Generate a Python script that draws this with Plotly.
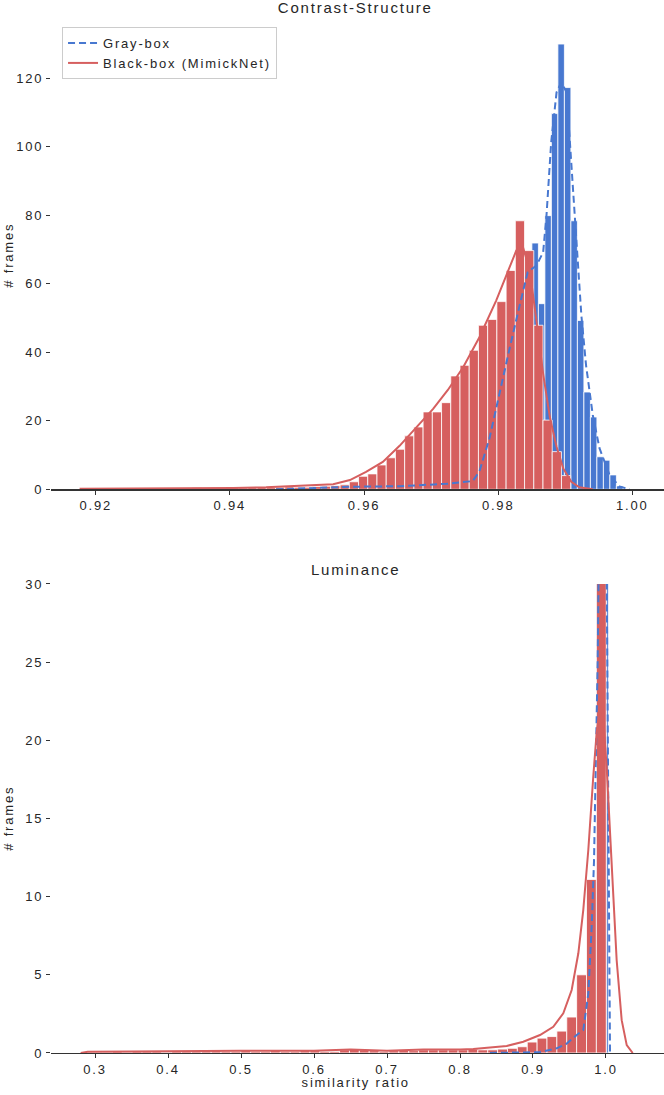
import numpy as np
import plotly.graph_objects as go

# ---------------- Datos: Contrast-Structure (panel superior) ----------------
# histograma Black-box (MimickNet): primer centro de bin, ancho de bin y conteos
cs_red_first_center = 0.91862
cs_red_bin = 0.001375
cs_red_counts = [
    0.2, 0.2, 0.1, 0.2, 0.2, 0.3, 0.2, 0.3, 0.3, 0.4,
    0.3, 0.4, 0.5, 0.4, 0.5, 0.4, 0.5, 0.4, 0.5, 0.6,
    0.5, 0.6, 0.7, 0.6, 0.6, 0.8, 0.9, 1.05, 1.3, 2.2,
    3.8, 4.5, 7.1, 9.2, 11.7, 15.6, 18.2, 22.6, 22.6, 25.3,
    33.1, 36.2, 40.6, 47.9, 49.6, 54.8, 63.9, 78.4, 69.7, 47.9,
    20.2, 11.0, 4.0,
]
# histograma Gray-box
cs_blue_first_center = 0.94772
cs_blue_bin = 0.000969
cs_blue_counts = [
    0.2, 0.3, 0.3, 0.4, 0.5, 0.5, 0.6, 0.6, 0.7, 0.7,
    0.8, 0.8, 0.8, 0.9, 0.9, 0.9, 1.0, 1.0, 1.0, 1.1,
    1.1, 1.2, 1.2, 1.3, 1.4, 1.5, 1.6, 1.8, 2.0, 2.4,
    4.0, 9.0, 16.0, 25.0, 33.0, 42.0, 50.0, 57.0, 63.0, 71.9,
    54.2, 79.9, 109.7, 130.0, 117.3, 78.4, 49.3, 28.4, 21.1, 9.5,
    8.5, 4.2, 1.0,
]
# curvas KDE
cs_blue_kde_x = [0.9469, 0.9530, 0.9583, 0.9653, 0.9673, 0.9723, 0.9762, 0.9772,
                 0.9787, 0.9802, 0.9817, 0.9832, 0.9844, 0.9857, 0.9867, 0.9872,
                 0.9879, 0.9887, 0.9894, 0.9902, 0.9909, 0.9917, 0.9924, 0.9931,
                 0.9941, 0.9951, 0.9966, 0.9981, 0.9996]
cs_blue_kde_y = [0.0, 0.4, 0.75, 0.9, 1.1, 1.6, 2.4, 5.2,
                 14.9, 28.5, 41.1, 53.7, 63.4, 65.3, 69.2, 79.9,
                 101.3, 115.9, 118.8, 115.9, 94.5, 70.2, 50.8, 36.2,
                 21.7, 12.0, 4.2, 0.8, 0.0]
cs_red_kde_x = [0.9176, 0.9250, 0.9300, 0.9355, 0.9405, 0.9454, 0.9504, 0.9554,
                0.9579, 0.9603, 0.9628, 0.9653, 0.9678, 0.9703, 0.9725, 0.9748,
                0.9772, 0.9797, 0.9812, 0.9827, 0.9837, 0.9847, 0.9857, 0.9867,
                0.9877, 0.9887, 0.9897, 0.9909, 0.9921, 0.9941]
cs_red_kde_y = [0.15, 0.2, 0.25, 0.3, 0.4, 0.58, 0.96, 1.5,
                2.7, 5.1, 8.0, 12.7, 18.1, 23.5, 29.0, 35.7,
                44.4, 55.1, 62.4, 69.7, 70.7, 63.9, 49.3, 33.8,
                21.1, 12.4, 6.1, 2.2, 0.6, 0.0]

# ---------------- Datos: Luminance (panel inferior) ----------------
lum_red_first_center = 0.29004
lum_red_bin = 0.01353
lum_red_counts = [
    0.05, 0.05, 0.05, 0.1, 0.05, 0.1, 0.1, 0.1, 0.05, 0.1,
    0.1, 0.1, 0.1, 0.15, 0.1, 0.1, 0.15, 0.1, 0.1, 0.15,
    0.1, 0.1, 0.15, 0.15, 0.1, 0.1, 0.2, 0.25, 0.2, 0.15,
    0.1, 0.15, 0.2, 0.15, 0.2, 0.2, 0.2, 0.2, 0.2, 0.25,
    0.2, 0.2, 0.25, 0.3, 0.4, 0.7, 0.95, 1.05, 1.4, 2.3,
    5.0, 11.1, 60.0,
]
lum_blue_first_center = 0.94975
lum_blue_bin = 0.0025
lum_blue_counts = [
    0.5, 0.6, 0.6, 0.7, 0.8, 0.9, 1.0, 1.2, 1.5, 2.0,
    3.0, 5.0, 6.0, 8.0, 10.0, 10.0, 90.0, 120.0, 140.0, 130.0,
    100.0, 60.0,
]
lum_blue_kde_x = [0.8411, 0.8800, 0.9096, 0.9325, 0.9462, 0.9599, 0.9689, 0.9758,
                  0.9804, 0.9836, 0.9863, 0.9886, 0.9900, 0.9925, 0.9955, 0.9985,
                  1.0009, 1.0023, 1.0037, 1.0055]
lum_blue_kde_y = [0.0, 0.02, 0.06, 0.3, 0.6, 1.15, 1.47, 3.8,
                  8.1, 12.3, 18.7, 25.1, 31.0, 55.0, 65.0, 50.0,
                  31.0, 23.0, 12.3, 0.0]
lum_red_kde_x = [0.2804, 0.2900, 0.3500, 0.4000, 0.4500, 0.5000, 0.5500, 0.6000,
                 0.6500, 0.7000, 0.7500, 0.7726, 0.8000, 0.8182, 0.8400, 0.8640,
                 0.8867, 0.9096, 0.9278, 0.9415, 0.9530, 0.9621, 0.9689, 0.9758,
                 0.9826, 0.9872, 0.9918, 0.9963, 1.0009, 1.0078, 1.0146, 1.0215,
                 1.0284, 1.0366]
lum_red_kde_y = [0.0, 0.08, 0.1, 0.1, 0.12, 0.15, 0.17, 0.15,
                 0.22, 0.15, 0.22, 0.2, 0.22, 0.25, 0.33, 0.45,
                 0.72, 1.15, 1.68, 2.54, 4.03, 6.38, 9.15, 13.0,
                 17.7, 20.5, 22.2, 21.5, 18.3, 12.3, 5.95, 2.1,
                 0.5, 0.0]

cs_xticks = [0.92, 0.94, 0.96, 0.98, 1.00]
cs_yticks = [0, 20, 40, 60, 80, 100, 120]
lum_xticks = [0.3, 0.4, 0.5, 0.6, 0.7, 0.8, 0.9, 1.0]
lum_yticks = [0, 5, 10, 15, 20, 25, 30]

CHART_CONFIG = {
    "colors": {
        "gray_box": "#4878d0",
        "black_box": "#d65f5f",
        "axis": "#333333",
        "text": "#262626",
    },
    "font": "Liberation Sans",
    "size": 13,
    "title_size": 15,
}

# la pagina sin margen del body y con algo de tracking en los textos (como el original).
# Se vuelve a dibujar con un tamanio de fuente apenas distinto para que plotly
# mida de nuevo el texto de la leyenda (si no, usa las medidas guardadas).
POST_SCRIPT = """
var gd = document.getElementById('{plot_id}');
document.body.style.margin = '0';
document.body.style.overflow = 'hidden';
var st = document.createElement('style');
st.innerHTML = 'svg text {letter-spacing: 1.8px;}';
document.head.appendChild(st);
gd.layout.legend.font.size = 13.01;
Plotly.newPlot(gd, gd.data, gd.layout, {staticPlot: true});
"""


def centros(first, width, counts):
    return first + width * np.arange(len(counts))


def barras(x, y, w, color, xa, ya):
    return go.Bar(x=x, y=y, width=w, marker_color=color,
                  marker_line_color="white", marker_line_width=0.8,
                  xaxis=xa, yaxis=ya, showlegend=False, hoverinfo="skip")


def crear_figura(cfg=CHART_CONFIG):
    c = cfg["colors"]
    fig = go.Figure()

    # --- panel superior ---
    fig.add_trace(barras(centros(cs_blue_first_center, cs_blue_bin, cs_blue_counts),
                         cs_blue_counts, cs_blue_bin, c["gray_box"], "x", "y"))
    fig.add_trace(barras(centros(cs_red_first_center, cs_red_bin, cs_red_counts),
                         cs_red_counts, cs_red_bin, c["black_box"], "x", "y"))
    fig.add_trace(go.Scatter(x=cs_blue_kde_x, y=cs_blue_kde_y, mode="lines", name="Gray-box",
                             line=dict(color=c["gray_box"], width=2, dash="7px,4px"),
                             xaxis="x", yaxis="y"))
    fig.add_trace(go.Scatter(x=cs_red_kde_x, y=cs_red_kde_y, mode="lines",
                             name="Black-box (MimickNet)",
                             line=dict(color=c["black_box"], width=2), xaxis="x", yaxis="y"))

    # --- panel inferior ---
    fig.add_trace(barras(centros(lum_blue_first_center, lum_blue_bin, lum_blue_counts),
                         lum_blue_counts, lum_blue_bin, c["gray_box"], "x2", "y2"))
    fig.add_trace(barras(centros(lum_red_first_center, lum_red_bin, lum_red_counts),
                         lum_red_counts, lum_red_bin, c["black_box"], "x2", "y2"))
    fig.add_trace(go.Scatter(x=lum_blue_kde_x, y=lum_blue_kde_y, mode="lines", showlegend=False,
                             line=dict(color=c["gray_box"], width=2, dash="7px,4px"),
                             xaxis="x2", yaxis="y2"))
    fig.add_trace(go.Scatter(x=lum_red_kde_x, y=lum_red_kde_y, mode="lines", showlegend=False,
                             line=dict(color=c["black_box"], width=2), xaxis="x2", yaxis="y2"))

    eje_x = dict(showline=True, linecolor=c["axis"], linewidth=1.3, ticks="outside",
                 ticklen=4, tickcolor=c["axis"], showgrid=False, zeroline=False,
                 automargin=False, tickfont=dict(size=cfg["size"], color=c["text"]))
    eje_y = dict(showline=False, ticks="outside", ticklen=4, tickcolor=c["axis"],
                 showgrid=False, zeroline=False, automargin=False,
                 tickfont=dict(size=cfg["size"], color=c["text"]))

    fig.update_layout(
        width=664, height=1095,
        margin=dict(l=51, r=0, t=0, b=0),
        paper_bgcolor="white", plot_bgcolor="white",
        barmode="overlay",
        font=dict(family=cfg["font"], size=cfg["size"], color=c["text"]),
        xaxis=dict(eje_x, domain=[0, 1], anchor="y", range=[0.913336, 1.004719],
                   tickvals=cs_xticks, ticktext=["%.2f" % v for v in cs_xticks]),
        yaxis=dict(eje_y, domain=[0.55315, 0.9801], anchor="x", range=[0, 136.5],
                   tickvals=cs_yticks),
        xaxis2=dict(eje_x, domain=[0, 1], anchor="y2", range=[0.23973, 1.07946],
                    tickvals=lum_xticks, ticktext=["%.1f" % v for v in lum_xticks]),
        yaxis2=dict(eje_y, domain=[0.03836, 0.46667], anchor="x2", range=[0, 30],
                    tickvals=lum_yticks),
        legend=dict(x=0.018, y=0.9753, xanchor="left", yanchor="top",
                    bgcolor="white", bordercolor="#cccccc", borderwidth=1,
                    font=dict(size=cfg["size"])),
        showlegend=True,
    )

    textos = [
        dict(text="Contrast-Structure", x=0.496, y=0.9936, size=cfg["title_size"], angle=0),
        dict(text="Luminance", x=0.496, y=0.4795, size=cfg["title_size"], angle=0),
        dict(text="# frames", x=-0.0701, y=0.7667, size=cfg["size"], angle=-90),
        dict(text="# frames", x=-0.0701, y=0.2525, size=cfg["size"], angle=-90),
        dict(text="similarity ratio", x=0.496, y=0.0110, size=cfg["size"], angle=0),
    ]
    for t in textos:
        fig.add_annotation(text=t["text"], x=t["x"], y=t["y"], xref="paper", yref="paper",
                           xanchor="center", yanchor="middle", showarrow=False,
                           textangle=t["angle"], font=dict(size=t["size"], color=c["text"]))
    return fig


fig = crear_figura()
fig.write_html("out.html", post_script=POST_SCRIPT)
